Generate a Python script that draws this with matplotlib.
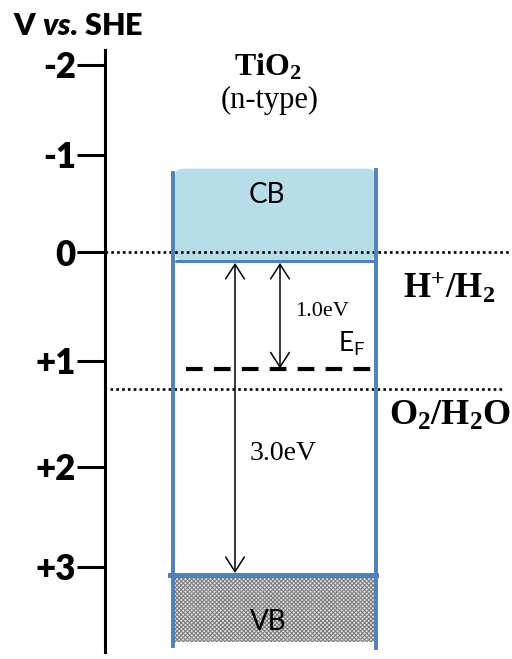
import numpy as np
import matplotlib
matplotlib.use('Agg')
from matplotlib import pyplot as plt
from matplotlib.patches import FancyBboxPatch, Rectangle

# energy scale, V vs. SHE
tick_vals = [-2, -1, 0, 1, 2, 3]
tick_labels = ['-2', '-1', '0', '+1', '+2', '+3']
redox_labels = [r'$\mathbf{H^{+}/H_2}$', r'$\mathbf{O_2/H_2O}$']
redox_pots = [0.0, 1.26]

cb_edge = 0.08      # bottom of conduction band
cb_top = -0.86
band_gap = 3.0
fermi_gap = 1.0
vb_bottom = 3.75

fermi = cb_edge + fermi_gap
vb_edge = cb_edge + band_gap

W, H = 512, 659
BLUE = '#4f81bd'
CB_FILL = '#b7dde8'

plt.rcParams['mathtext.fontset'] = 'custom'
plt.rcParams['mathtext.rm'] = 'Liberation Serif'
plt.rcParams['mathtext.bf'] = 'Liberation Serif:bold'
plt.rcParams['mathtext.it'] = 'Lato:italic:heavy'
plt.rcParams['mathtext.sf'] = 'Lato'
plt.rcParams['hatch.linewidth'] = 0.7

fig = plt.figure(figsize=(W / 100, H / 100), dpi=100)
ax = fig.add_axes([0, 0, 1, 1])
ax.patch.set_visible(False)

# hand drawn axis: tick rows in the original drawing
tick_px = [65, 155, 252, 361, 467, 567]
v_nodes = [-3] + tick_vals + [4]
p_nodes = [-25] + tick_px + [667]


def fwd(v):
    return np.interp(v, v_nodes, p_nodes)


def inv(p):
    return np.interp(p, p_nodes, v_nodes)


ax.set_yscale('function', functions=(fwd, inv))
ax.set_xlim(0, W)
ax.set_ylim(inv(H), inv(0))

for s in ['top', 'right', 'bottom']:
    ax.spines[s].set_visible(False)
ax.spines['left'].set_position(('data', 105))
ax.spines['left'].set_bounds(inv(50), inv(652))
ax.spines['left'].set_linewidth(2.2)
ax.set_xticks([])
ax.set_yticks(tick_vals, tick_labels)
ax.yaxis.set_minor_locator(matplotlib.ticker.NullLocator())
ax.tick_params(axis='y', length=20, width=2.2, pad=1, labelsize=25)
for lab in ax.get_yticklabels():
    lab.set_fontweight('heavy')
    lab.set_family('Lato')

# redox levels
ax.plot([105, 510], [redox_pots[0]] * 2, color='black', lw=1.9, ls=(0, (1, 1.2)))
ax.plot([110, 502], [redox_pots[1]] * 2, color='black', lw=1.9, ls=(0, (1, 1.2)))

# conduction band
cb = FancyBboxPatch((175, cb_top), 200, cb_edge - cb_top,
                    boxstyle='round,pad=0,rounding_size=8',
                    mutation_aspect=0.0095, facecolor=CB_FILL, edgecolor='none', zorder=1)
ax.add_patch(cb)
ax.plot([176, 374], [cb_edge, cb_edge], color=BLUE, lw=2.2, solid_capstyle='round', zorder=2)

# valence band
vb = Rectangle((172, vb_edge), 202, vb_bottom - vb_edge, facecolor='#dedede',
               edgecolor='#7a7a7a', hatch='xxxxxxxx', lw=0, zorder=1)
ax.add_patch(vb)
ax.plot([170, 376], [vb_edge, vb_edge], color=BLUE, lw=3.6, zorder=3)

# band walls
ax.plot([173, 173], [inv(173), inv(646)], color=BLUE, lw=2.8, zorder=3)
ax.plot([376, 376], [inv(170), inv(648)], color=BLUE, lw=2.8, zorder=3)

# Fermi level
ax.plot([186, 372], [fermi, fermi], color='black', lw=3, ls=(0, (4, 2.7)), zorder=2)

# arrows
aprops = dict(arrowstyle='<->,head_length=0.7,head_width=0.45', lw=1.1, color='black',
              shrinkA=0, shrinkB=0, mutation_scale=15)
ax.annotate('', xy=(235, cb_edge + 0.02), xytext=(235, vb_edge - 0.02), arrowprops=aprops)
ax.annotate('', xy=(280, cb_edge + 0.02), xytext=(280, fermi - 0.01), arrowprops=aprops)


def put(x, y, s, **kw):
    fig.text(x / W, 1 - y / H, s, **kw)


serif = 'Liberation Serif'
put(13, 35, r'V $\mathit{vs}$. SHE', family='Lato', fontweight='heavy', fontsize=22,
    ha='left', va='baseline')
put(268, 75, r'$\mathbf{TiO_2}$', fontsize=23, ha='center', va='baseline')
put(270, 108, '(n-type)', family=serif, fontsize=22, ha='center', va='baseline')
put(267, 203, 'CB', family='Lato', fontsize=20, ha='center', va='baseline')
put(268, 630, 'VB', family='Lato', fontsize=20, ha='center', va='baseline')
put(322, 316, '1.0eV', family=serif, fontsize=16, ha='center', va='baseline')
put(283, 460, '3.0eV', family=serif, fontsize=20, ha='center', va='baseline')
put(338, 352, r'$\mathsf{E}_\mathsf{F}$', fontsize=19, ha='left', va='baseline')
put(449, 298, redox_labels[0], fontsize=25, ha='center', va='baseline')
put(450, 425, redox_labels[1], fontsize=26, ha='center', va='baseline')

fig.savefig('out.png', dpi=100)
